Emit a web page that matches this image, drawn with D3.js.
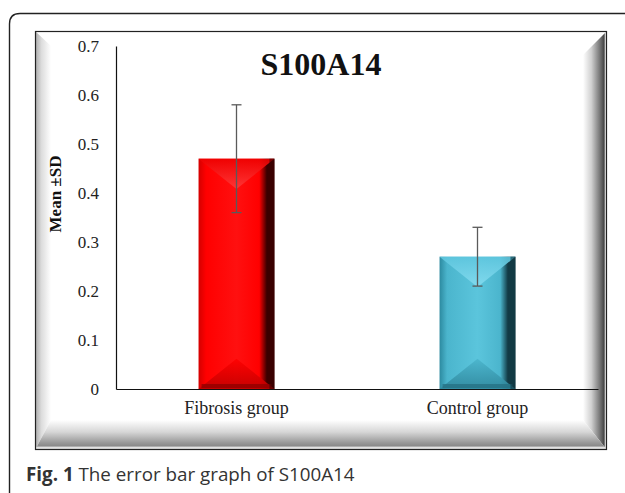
<!DOCTYPE html>
<html>
<head>
<meta charset="utf-8">
<script src="https://cdn.jsdelivr.net/npm/d3@7"></script>
<style>
  body { margin: 0; background: #fff; }
  svg { display: block; }
</style>
</head>
<body>
<div id="chart"></div>
<script>
// values
const groups = ["Fibrosis group", "Control group"];
const means = [0.47, 0.27];
const sds = [0.11, 0.06];
const yTicks = [0, 0.1, 0.2, 0.3, 0.4, 0.5, 0.6, 0.7];
const title = "S100A14";
const yLabel = "Mean \u00b1SD";

// bar palettes
const palettes = [
  { left: "#d40000", body: "#ff0000", light: "#ff1010", right: "#3a0000",
    top: "#ee0000", apex: "#ff3a3a", bottom: "#c00000", strip: "#8a0000" },
  { left: "#2c8aa0", body: "#4bb5cd", light: "#5bc5dc", right: "#123a45",
    top: "#5ec6de", apex: "#86dcf0", bottom: "#2f879c", strip: "#236d80" }
];

const W = 625, H = 493;
const svg = d3.select("#chart").append("svg")
  .attr("width", W).attr("height", H);
const defs = svg.append("defs");

// outer figure frame (cropped page, open at right and bottom)
svg.append("path")
  .attr("d", "M9.5," + (H + 5) + " L9.5,24 Q9.5,13.5 20,13.5 L" + (W + 5) + ",13.5")
  .attr("fill", "none").attr("stroke", "#222").attr("stroke-width", 1.4);

// bevelled chart frame
const fx0 = 35, fx1 = 607, fy0 = 31, fy1 = 450;
const bl = 16, br = 24, bb = 30;

function lin(id, horizontal, stops) {
  let g = defs.append("linearGradient").attr("id", id)
    .attr("x1", 0).attr("y1", 0)
    .attr("x2", horizontal ? 1 : 0).attr("y2", horizontal ? 0 : 1);
  stops.forEach(s => g.append("stop").attr("offset", s[0]).attr("stop-color", s[1]));
}
lin("bevL", true, [[0, "#a8a8a8"], [0.4, "#dcdcdc"], [1, "#ffffff"]]);
lin("bevR", true, [[0, "#ffffff"], [0.35, "#d0d0d0"], [0.75, "#6a6a6a"], [0.88, "#444"], [0.93, "#e0e0e0"], [1, "#cfcfcf"]]);
lin("bevB", false, [[0, "#ffffff"], [0.4, "#d6d6d6"], [0.75, "#9a9a9a"], [0.86, "#8a8a8a"], [0.92, "#e6e6e6"], [1, "#d8d8d8"]]);

svg.append("rect").attr("x", fx0).attr("y", fy0)
  .attr("width", fx1 - fx0).attr("height", fy1 - fy0).attr("fill", "#fff");

svg.append("polygon")
  .attr("points", [[fx0, fy0], [fx0 + bl, fy0 + 15], [fx0 + bl, fy1 - bb], [fx0, fy1]].join(" "))
  .attr("fill", "url(#bevL)");
svg.append("polygon")
  .attr("points", [[fx1, fy0], [fx1 - br, fy0 + br], [fx1 - br, fy1 - bb], [fx1, fy1]].join(" "))
  .attr("fill", "url(#bevR)");
svg.append("polygon")
  .attr("points", [[fx0, fy1], [fx0 + bl, fy1 - bb], [fx1 - br, fy1 - bb], [fx1, fy1]].join(" "))
  .attr("fill", "url(#bevB)");

svg.append("rect").attr("x", fx0 + 0.5).attr("y", fy0 + 0.5)
  .attr("width", fx1 - fx0 - 1).attr("height", fy1 - fy0 - 1)
  .attr("fill", "none").attr("stroke", "#222").attr("stroke-width", 1.2);

// scales
const x = d3.scaleBand()
  .domain(groups)
  .range([116, 598])
  .paddingInner(0.685)
  .paddingOuter(0.3425);

const y = d3.scaleLinear()
  .domain([0, 0.7])
  .range([389, 46]);

// axes
const yAxis = d3.axisLeft(y)
  .tickValues(yTicks)
  .tickSize(0)
  .tickPadding(17)
  .tickFormat(d => d === 0 ? "0" : d3.format(".1f")(d));

const yAxisG = svg.append("g")
  .attr("transform", "translate(116,0)")
  .call(yAxis);
yAxisG.select(".domain").attr("stroke", "#111").attr("stroke-width", 1.2);
yAxisG.selectAll("text")
  .attr("font-family", "Liberation Serif, serif")
  .attr("font-size", 17).attr("fill", "#222");

const xAxis = d3.axisBottom(x).tickSize(0).tickPadding(12);
const xAxisG = svg.append("g")
  .attr("transform", "translate(0," + y(0) + ")")
  .call(xAxis);
xAxisG.select(".domain").attr("stroke", "#111").attr("stroke-width", 1.2);
xAxisG.selectAll("text")
  .attr("font-family", "Liberation Serif, serif")
  .attr("font-size", 18).attr("fill", "#222");

// bars with a bevelled look
const bars = groups.map((g, i) => ({ name: g, mean: means[i], sd: sds[i], pal: palettes[i], i: i }));

bars.forEach(b => {
  let p = b.pal;
  lin("body" + b.i, true, [[0, p.left], [0.1, p.body], [0.5, p.light], [0.8, p.body], [0.9, p.right], [1, p.right]]);
  lin("top" + b.i, false, [[0, p.top], [1, p.apex]]);
  lin("bot" + b.i, false, [[0, p.body], [1, p.bottom]]);
});

const barG = svg.append("g");
bars.forEach(b => {
  let x0 = x(b.name), bw = x.bandwidth(), x1 = x0 + bw, xc = x0 + bw / 2;
  let yt = y(b.mean), yb = y(0);
  let d = bw * 0.4;
  let g = barG.append("g");
  g.append("rect").attr("x", x0).attr("y", yt)
    .attr("width", bw).attr("height", yb - yt)
    .attr("fill", "url(#body" + b.i + ")");
  // top wedge
  g.append("polygon")
    .attr("points", [[x0, yt], [x1, yt], [xc, yt + d]].join(" "))
    .attr("fill", "url(#top" + b.i + ")").attr("opacity", 0.9);
  // bottom wedge
  g.append("polygon")
    .attr("points", [[x0, yb], [xc, yb - d], [x1, yb]].join(" "))
    .attr("fill", "url(#bot" + b.i + ")").attr("opacity", 0.9);
  g.append("rect").attr("x", x0 + 3).attr("y", yb - 5)
    .attr("width", bw - 6).attr("height", 4)
    .attr("fill", b.pal.strip).attr("opacity", 0.7);
  // dark right edge again on top of the wedges
  g.append("rect").attr("x", x1 - 5).attr("y", yt)
    .attr("width", 5).attr("height", yb - yt)
    .attr("fill", b.pal.right).attr("opacity", 0.6);
});

// error bars
const errG = svg.append("g").attr("stroke", "#5a5a5a").attr("stroke-width", 1.3);
bars.forEach(b => {
  let xc = x(b.name) + x.bandwidth() / 2;
  errG.append("line").attr("x1", xc).attr("x2", xc)
    .attr("y1", y(b.mean + b.sd)).attr("y2", y(b.mean - b.sd));
  [b.mean + b.sd, b.mean - b.sd].forEach(v => {
    errG.append("line").attr("x1", xc - 5).attr("x2", xc + 5)
      .attr("y1", y(v)).attr("y2", y(v));
  });
});

// title and y label
svg.append("text")
  .attr("x", 321).attr("y", 75)
  .attr("text-anchor", "middle")
  .attr("font-family", "Liberation Serif, serif")
  .attr("font-weight", "bold").attr("font-size", 32)
  .attr("fill", "#111")
  .text(title);

svg.append("text")
  .attr("transform", "translate(61,194) rotate(-90)")
  .attr("text-anchor", "middle")
  .attr("font-family", "Liberation Serif, serif")
  .attr("font-weight", "bold").attr("font-size", 17)
  .attr("fill", "#111")
  .text(yLabel);

// figure caption
const cap = svg.append("text")
  .attr("x", 26).attr("y", 481)
  .attr("font-family", "Open Sans, sans-serif")
  .attr("font-size", 18.8).attr("fill", "#333");
cap.append("tspan").attr("font-weight", "bold").text("Fig. 1");
cap.append("tspan").text(" The error bar graph of S100A14");
</script>
</body>
</html>
